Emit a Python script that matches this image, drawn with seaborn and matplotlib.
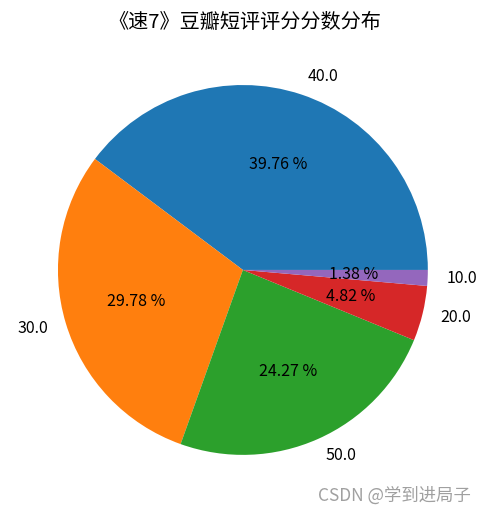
import matplotlib
matplotlib.use("Agg")
import matplotlib.pyplot as plt
import seaborn as sns

# score distribution
scores = ["40.0", "30.0", "50.0", "20.0", "10.0"]
shares = [39.76, 29.78, 24.27, 4.82, 1.38]
title = "《速7》豆瓣短评评分分数分布"
watermark = "CSDN @学到进局子"

plt.rcParams["font.family"] = ["Noto Sans CJK SC", "DejaVu Sans"]
plt.rcParams["axes.unicode_minus"] = False

colors = sns.color_palette("tab10", len(scores))

fig = plt.figure(figsize=(4.95, 5.14), dpi=100)
ax = fig.add_axes([0.0237, 0.0248, 0.934, 0.900])
ax.pie(shares, labels=scores, colors=colors, autopct="%.2f %%",
       textprops={"fontsize": 11.5})
ax.set_aspect("equal")

fig.text(0.495, 0.957, title, ha="center", va="center", fontsize=14.5)
fig.text(0.796, 0.036, watermark, ha="center", va="center", fontsize=12.5, color="#a0a0a0")

plt.savefig("out.png", dpi=100)
plt.close()
